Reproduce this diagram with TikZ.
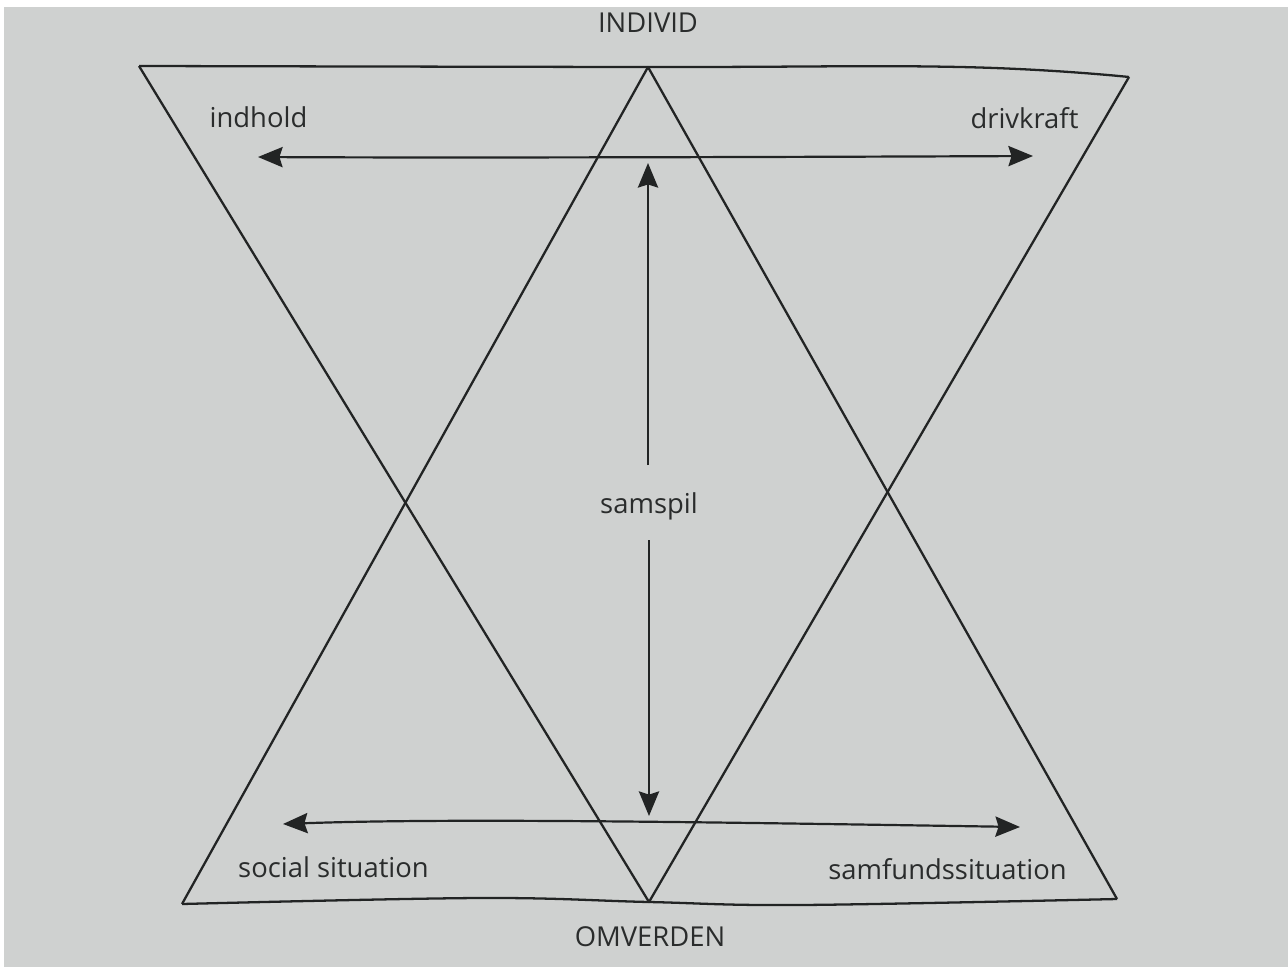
\documentclass[tikz,border=0pt]{standalone}
\usepackage{fontspec}
\setmainfont{Open Sans}
\usetikzlibrary{arrows.meta}
\definecolor{paper}{HTML}{CFD1D0}
\definecolor{ink}{HTML}{222424}
\definecolor{txt}{HTML}{2A2C2C}
\tikzset{
  edge/.style={draw=ink, line width=1.3pt, line join=round},
  arr/.style={draw=ink, line width=1.25pt, {Stealth[length=14pt,width=11.5pt,inset=1.8pt]}-{Stealth[length=14pt,width=11.5pt,inset=1.8pt]}},
  arrone/.style={draw=ink, line width=1.25pt, -{Stealth[length=14pt,width=11.5pt,inset=1.8pt]}},
  lbl/.style={text=txt, inner sep=0pt, font=\fontsize{15.6}{18}\selectfont},
}
\begin{document}
\begin{tikzpicture}[x=0.02cm,y=-0.02cm]
\useasboundingbox (0,0) rectangle (1288,967);
\fill[white] (0,0) rectangle (1288,967);
\fill[paper] (4,7) rectangle (1288,967);
% vertices
\coordinate (TL) at (139,66);
\coordinate (TR) at (1129,77);
\coordinate (Bapex) at (649,902);
\coordinate (Tapex) at (648,67);
\coordinate (BL) at (182,904);
\coordinate (BR) at (1117,899);
% inverted triangle sides
\draw[edge] (TL) -- (Bapex) -- (TR);
% upright triangle sides
\draw[edge] (BL) -- (Tapex) -- (BR);
% top edge
\draw[edge] plot[smooth, tension=0.7] coordinates {(TL) (Tapex) (960,67) (TR)};
% bottom edge
\draw[edge] plot[smooth, tension=0.6] coordinates {(BL) (480,898) (Bapex) (800,905) (BR)};
% horizontal arrows
\coordinate (hl) at (258,157);
\coordinate (hr) at (1033,156);
\draw[arr] (hl) .. controls (450,158) and (800,157) .. (hr);
\coordinate (bl) at (283,824);
\coordinate (br) at (1020,827);
\draw[arr] (bl) .. controls (450,818) and (700,822) .. (br);
% vertical arrow
\node[lbl] (samspil) at (649,506) {samspil};
\coordinate (vt) at (648,163);
\coordinate (vtb) at (648,465);
\coordinate (vb) at (649,816);
\coordinate (vbt) at (649,540);
\draw[arrone] (vtb) -- (vt);
\draw[arrone] (vbt) -- (vb);
% labels
\node[lbl] (individ) at (648,23) {INDIVID};
\node[lbl] (omverden) at (650,937) {OMVERDEN};
\node[lbl, anchor=base] (indhold) at (258.5,127) {indhold};
\node[lbl, anchor=base] (drivkraft) at (1024.5,128) {drivkraft};
\node[lbl, anchor=base] (social) at (333.5,877) {social situation};
\node[lbl, anchor=base] (samfund) at (947.5,879) {samfundssituation};
\end{tikzpicture}
\end{document}
